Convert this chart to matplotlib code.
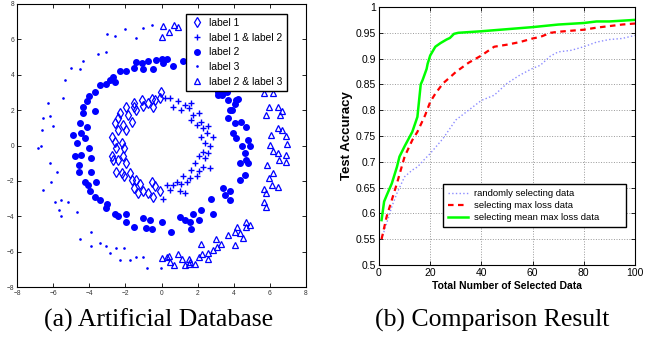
import matplotlib
matplotlib.use("Agg")
import matplotlib.pyplot as plt

# ---------------- Left panel data ----------------
label1_x = [-0.05, -0.1, -0.35, -0.55, -0.75, -0.45, -1.1, -1.0, -1.5, -1.55, -1.4, -1.95, -1.85, -2.3, -2.4,
            -2.6, -2.15, -1.95, -2.75, -2.6, -2.2, -2.5, -2.75, -2.7, -2.4, -2.15, -1.95, -2.5, -2.2, -2.05,
            -1.75, -1.65, -1.4, -1.2, -1.55, -1.3, -1.0, -0.75, -0.55, -0.35, -0.1, -0.45, -2.1, -2.4, -1.65]
label1_y = [3.0, 2.7, 2.6, 2.65, 2.4, 2.2, 2.6, 2.25, 2.4, 2.2, 2.0, 2.2, 1.75, 1.85, 1.55,
            1.25, 1.15, 0.9, 0.5, 0.2, 0.15, -0.15, -0.6, -0.8, -0.8, -0.6, -1.0, -1.5, -1.55, -1.75,
            -1.55, -1.95, -1.95, -2.15, -2.4, -2.7, -2.6, -2.7, -2.05, -2.3, -2.6, -2.9, -0.15, 0.9, 1.35]

label12_x = [0.2, 0.45, 0.65, 0.9, 1.1, 1.3, 1.5, 1.65, 1.75, 1.65, 1.95, 2.1, 2.2, 2.3, 2.6, 2.85, 2.5,
             2.2, 2.4, 2.7, 2.6, 2.3, 2.1, 2.4, 2.7, 2.3, 2.1, 1.85, 1.65, 1.95, 1.6, 1.4, 1.2, 1.1, 0.85,
             0.65, 0.45, 0.3, 0.1, 1.0, 1.3]
label12_y = [2.7, 2.7, 2.2, 2.5, 2.0, 2.3, 2.1, 2.4, 1.75, 1.45, 1.15, 1.85, 1.35, 1.0, 1.1, 0.5, 0.7,
             0.5, 0.15, -0.05, -0.45, -0.35, -0.6, -0.7, -1.25, -1.2, -1.45, -1.0, -1.4, -1.75, -1.85,
             -2.05, -1.75, -2.15, -2.05, -2.25, -2.5, -2.25, -3.0, -2.6, -2.7]

label2_x = [0.0, 0.1, -0.3, -0.75, -1.1, -1.4, -0.45, -1.0, -1.55, -1.95, -2.3, -2.7, -3.05, -2.6, -2.85,
            -3.4, -3.7, -4.0, -4.35, -4.1, -3.7, -4.35, -4.5, -4.1, -4.45, -4.9, -4.25, -4.7, -4.0, -4.45,
            -4.8, -3.9, -4.55, -4.55, -3.9, -4.25, -3.6, -4.05, -3.95, -3.4, -3.7, -3.0, -3.05, -2.6, -2.4,
            -1.95, -1.95, -1.55, -1.0, -0.85, -0.65, -0.55, 0.0, 0.5, 1.0, 1.3, 1.65, 1.75, 2.1, 2.2, 1.6,
            2.75, 2.85, 3.4, 3.5, 3.8, 3.8, 4.35, 4.6, 4.35, 4.7, 4.8, 4.8, 4.9, 4.45, 4.6, 4.15, 3.95,
            4.05, 4.7, 4.4, 3.7, 3.9, 4.15, 3.7, 3.15, 3.35, 0.28, 0.65, 3.15, 3.4, 3.6, 4.25, 4.05, 3.8,
            1.5, 2.5, 3.3, 2.0, 1.2, 2.8]
label2_y = [4.9, 4.65, 4.85, 4.75, 4.65, 4.7, 4.3, 4.3, 4.4, 4.2, 4.2, 3.9, 3.45, 3.6, 3.7,
            3.4, 3.05, 2.8, 2.2, 2.5, 1.95, 1.85, 1.25, 1.05, 0.7, 0.6, 0.4, 0.15, -0.15, -0.55,
            -0.6, -0.7, -1.1, -1.5, -1.5, -2.05, -2.05, -2.25, -2.6, -3.1, -2.9, -3.3, -3.55, -3.85, -4.0,
            -3.85, -4.3, -4.6, -4.1, -4.65, -4.2, -4.7, -4.3, -4.9, -4.05, -4.2, -4.7, -3.85, -4.2, -3.65,
            -4.3, -3.05, -3.85, -2.4, -2.8, -3.1, -2.6, -1.95, -1.65, -1.0, -0.8, -1.0, 0.3, -0.05, -0.05,
            -0.4, 0.4, 0.7, 1.25, 1.05, 1.35, 1.55, 2.0, 2.6, 2.6, 2.85, 2.85, 4.9, 4.5, 3.0, 2.95, 3.0,
            2.65, 2.35, 2.0, 4.7, 4.2, 3.5, 4.5, 4.8, 3.8]

label3_x = [-1.0, -0.55, -1.4, -2.0, -2.6, -3.0, -3.5, -3.05, -4.35, -5.0, -4.5, -5.35, -5.45, -6.3, -6.55,
            -6.2, -6.0, -6.6, -6.85, -6.65, -6.2, -5.8, -6.1, -6.55, -5.9, -5.55, -5.65, -5.2, -4.7, -5.55,
            -4.5, -3.9, -3.9, -3.05, -2.5, -2.1, -2.85, -1.75, -1.4, -1.0, -0.8, -0.05, -2.3, -3.4]
label3_y = [6.65, 6.8, 6.1, 6.6, 6.2, 6.3, 5.2, 5.3, 4.75, 4.4, 4.3, 3.7, 2.7, 2.4, 1.55,
            1.65, 1.1, 0.9, -0.15, -0.05, -1.0, -1.5, -2.05, -2.5, -3.2, -3.1, -3.65, -3.2, -3.75, -4.0,
            -5.3, -4.9, -5.7, -5.7, -5.8, -5.8, -6.1, -6.5, -6.3, -6.3, -6.95, -6.95, -6.5, -5.5]

label23_x = [0.1, 0.05, 0.7, 0.4, 0.9, 5.65, 5.85, 6.2, 5.95, 6.45, 6.65, 5.8, 6.55, 6.05, 6.45, 6.65,
             6.9, 6.97, 6.0, 6.2, 6.45, 6.9, 6.5, 6.9, 5.85, 6.2, 5.97, 6.1, 6.45, 5.7, 5.8, 5.65, 5.8,
             4.9, 4.7, 4.67, 4.35, 4.2, 4.05, 4.5, 4.05, 3.7, 3.3, 3.0, 2.85, 2.6, 3.05, 2.2, 2.25, 2.1,
             2.6, 1.85, 1.6, 1.5, 1.3, 1.15, 0.9, 0.7, 0.4, 0.05, 0.3, 0.45, 1.55,
             1.6, 2.5, 3.4, 4.3, 5.0, 5.4]
label23_y = [6.75, 6.15, 6.8, 6.4, 6.7, 2.95, 3.25, 2.95, 2.2, 2.2, 1.95, 1.7, 1.75, 0.6, 1.0, 0.85,
             0.55, 0.1, 0.05, -0.3, -0.45, -0.55, -0.8, -0.95, -1.1, -1.55, -1.85, -2.25, -2.35, -2.45,
             -2.7, -3.2, -3.5, -4.5, -4.3, -4.6, -4.95, -4.6, -4.9, -5.25, -5.6, -5.05, -5.55, -5.3, -5.9,
             -6.1, -5.75, -5.55, -6.15, -6.3, -6.4, -6.7, -6.6, -6.7, -6.75, -6.4, -6.15, -6.75, -6.25,
             -6.35, -6.3, -6.6, -6.4,
             6.5, 6.1, 5.5, 4.8, 4.1, 3.6]

# ---------------- Right panel data ----------------
rand_x = [1, 3, 5, 7, 10, 13, 15, 18, 20, 25, 30, 35, 40, 45, 50, 55, 60, 63, 67, 70, 75, 80, 85, 90, 95, 100]
rand_y = [0.55, 0.581, 0.613, 0.639, 0.671, 0.684, 0.69, 0.706, 0.716, 0.745, 0.781, 0.80, 0.819, 0.829,
          0.852, 0.868, 0.881, 0.887, 0.905, 0.913, 0.916, 0.923, 0.932, 0.937, 0.939, 0.945]

maxloss_x = [1, 3, 5, 7, 10, 13, 15, 18, 20, 22, 25, 28, 30, 35, 40, 45, 50, 55, 60, 63, 67, 70, 80, 85, 90, 95, 100]
maxloss_y = [0.55, 0.594, 0.626, 0.658, 0.71, 0.742, 0.758, 0.79, 0.816, 0.832, 0.852, 0.865, 0.874, 0.892,
             0.906, 0.923, 0.927, 0.932, 0.939, 0.942, 0.95, 0.952, 0.956, 0.96, 0.963, 0.966, 0.968]

meanmax_x = [1, 2, 3, 5, 7, 8, 10, 13, 15, 16.3, 17, 18.6, 19, 20, 22, 24, 26.4, 27.7, 29.3, 31, 40, 50, 60,
             70, 80, 85, 90, 100]
meanmax_y = [0.587, 0.623, 0.635, 0.658, 0.69, 0.71, 0.73, 0.758, 0.787, 0.85, 0.858, 0.88, 0.89, 0.906,
             0.923, 0.93, 0.937, 0.94, 0.948, 0.95, 0.953, 0.957, 0.961, 0.966, 0.969, 0.972, 0.972, 0.975]

BLUE = (0, 0, 1)
SANS = 'Liberation Sans'

fig = plt.figure(figsize=(6.57, 3.41), dpi=100)

# ---------------- Left panel ----------------
ax1 = fig.add_axes([17 / 657, 1 - 287 / 341, 289 / 657, 283 / 341])
ax1.plot(label1_x, label1_y, linestyle='none', marker='d', mfc='none', mec=BLUE, ms=5, mew=0.9, label='label 1')
ax1.plot(label12_x, label12_y, linestyle='none', marker='+', color=BLUE, ms=5, mew=1.0, label='label 1 & label 2')
ax1.plot(label2_x, label2_y, linestyle='none', marker='o', mfc=BLUE, mec=BLUE, ms=4, label='label 2')
ax1.plot(label3_x, label3_y, linestyle='none', marker='.', color=BLUE, ms=1.8, label='label 3')
ax1.plot(label23_x, label23_y, linestyle='none', marker='^', mfc='none', mec=BLUE, ms=5, mew=0.9, label='label 2 & label 3')
ax1.set_xlim(-8, 8)
ax1.set_ylim(-8, 8)
ax1.set_xticks(range(-8, 9, 2))
ax1.set_yticks(range(-8, 9, 2))
ax1.tick_params(direction='in', top=True, right=True, labelsize=4.8, length=3, width=0.6, colors='black',
                labelcolor='#333333', pad=2)
for lab in ax1.get_xticklabels() + ax1.get_yticklabels():
    lab.set_family(SANS)
for s in ax1.spines.values():
    s.set_linewidth(0.8)
leg1 = ax1.legend(loc='upper right', bbox_to_anchor=(0.934, 0.965), prop={'family': SANS, 'size': 7.4},
                  frameon=True, fancybox=False, edgecolor='black', framealpha=1, borderpad=0.4,
                  borderaxespad=0, labelspacing=0.45, handletextpad=0.6, handlelength=1.3, markerscale=1.0)
leg1.get_frame().set_linewidth(1.0)

# ---------------- Right panel ----------------
ax2 = fig.add_axes([379 / 657, 1 - 265 / 341, 256 / 657, 258 / 341])
ax2.plot(rand_x, rand_y, linestyle=':', color=(0.55, 0.55, 1.0), lw=1.0, label='randomly selecting data')
ax2.plot(maxloss_x, maxloss_y, linestyle='--', color=(1, 0, 0), lw=1.6, dashes=(2.5, 2), label='selecting max loss data')
ax2.plot(meanmax_x, meanmax_y, linestyle='-', color=(0, 1, 0), lw=1.8, label='selecting mean max loss data')
ax2.set_xlim(0, 100)
ax2.set_ylim(0.5, 1.0)
ax2.set_xticks([0, 20, 40, 60, 80, 100])
ax2.set_yticks([0.5, 0.55, 0.6, 0.65, 0.7, 0.75, 0.8, 0.85, 0.9, 0.95, 1.0])
ax2.set_yticklabels(['0.5', '0.55', '0.6', '0.65', '0.7', '0.75', '0.8', '0.85', '0.9', '0.95', '1'])
ax2.grid(True, linestyle=':', color='#999999', lw=0.7)
ax2.tick_params(direction='in', top=True, right=True, labelsize=7.5, length=3, width=0.6, pad=2)
for lab in ax2.get_xticklabels() + ax2.get_yticklabels():
    lab.set_family(SANS)
for s in ax2.spines.values():
    s.set_linewidth(0.8)
ax2.set_xlabel('Total Number of Selected Data', fontsize=7.5, fontweight='bold', family=SANS, labelpad=2)
ax2.set_ylabel('Test Accuracy', fontsize=9.5, fontweight='bold', family=SANS, labelpad=2)
leg2 = ax2.legend(loc='lower left', bbox_to_anchor=(0.25, 0.147, 0.715, 0.175), mode='expand',
                  prop={'family': SANS, 'size': 6.8},
                  frameon=True, fancybox=False, edgecolor='black', framealpha=1, borderpad=0.55,
                  borderaxespad=0, labelspacing=0.3, handlelength=2.1, handletextpad=0.6)
leg2.get_frame().set_linewidth(1.0)

# ---------------- Captions ----------------
fig.text(159 / 657, 1 - 320 / 341, '(a) Artificial Database', ha='center', va='center',
         fontsize=18.5, family='Liberation Serif')
fig.text(492 / 657, 1 - 320 / 341, '(b) Comparison Result', ha='center', va='center',
         fontsize=18.5, family='Liberation Serif')

fig.savefig('out.png', dpi=100)
